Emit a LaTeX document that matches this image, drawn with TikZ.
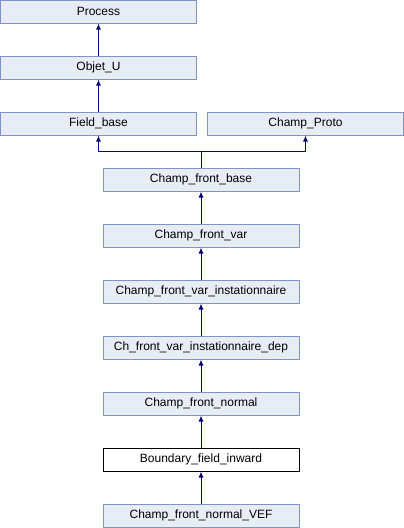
\documentclass[tikz,border=0pt]{standalone}
\usepackage{fontspec}
\setmainfont{Liberation Sans}
\usetikzlibrary{arrows.meta}
\definecolor{boxfill}{HTML}{E8ECF5}
\definecolor{boxdraw}{HTML}{7C95C8}
\definecolor{edge}{HTML}{000080}
\begin{document}
\begin{tikzpicture}[x=1pt,y=1pt,
  cls/.style={draw=boxdraw,fill=boxfill,line width=1pt,minimum width=196pt,minimum height=23pt,inner sep=0pt,font=\fontsize{12}{14}\selectfont},
  cur/.style={cls,draw=black,fill=white},
  inh/.style={draw=edge,line width=1pt,-{Latex[length=6pt,width=5pt]}}]
\useasboundingbox (0,0) rectangle (404,-528);
\node[cls] (process) at (98.5,-11.5) {Process};
\node[cls] (objet) at (98.5,-67.5) {Objet\_U};
\node[cls] (field) at (98.5,-123.5) {Field\_base};
\node[cls] (proto) at (305.5,-123.5) {Champ\_Proto};
\node[cls] (cfb) at (201,-179.5) {Champ\_front\_base};
\node[cls] (cfv) at (201,-235.5) {Champ\_front\_var};
\node[cls] (cfvi) at (201,-291.5) {Champ\_front\_var\_instationnaire};
\node[cls] (chdep) at (201,-347.5) {Ch\_front\_var\_instationnaire\_dep};
\node[cls] (cfn) at (201,-403.5) {Champ\_front\_normal};
\node[cur] (bfi) at (201,-459.5) {Boundary\_field\_inward};
\node[cls] (vef) at (201,-515.5) {Champ\_front\_normal\_VEF};
\coordinate (j) at (201,-151.7);
\draw[inh] (objet.north) -- (process.south);
\draw[inh] (field.north) -- (objet.south);
\draw[inh] (cfb.north) -- (j) -| (field.south);
\draw[inh] (j) -| (proto.south);
\draw[inh] (cfv.north) -- (cfb.south);
\draw[inh] (cfvi.north) -- (cfv.south);
\draw[inh] (chdep.north) -- (cfvi.south);
\draw[inh] (cfn.north) -- (chdep.south);
\draw[inh] (bfi.north) -- (cfn.south);
\draw[inh] (vef.north) -- (bfi.south);
\end{tikzpicture}
\end{document}
